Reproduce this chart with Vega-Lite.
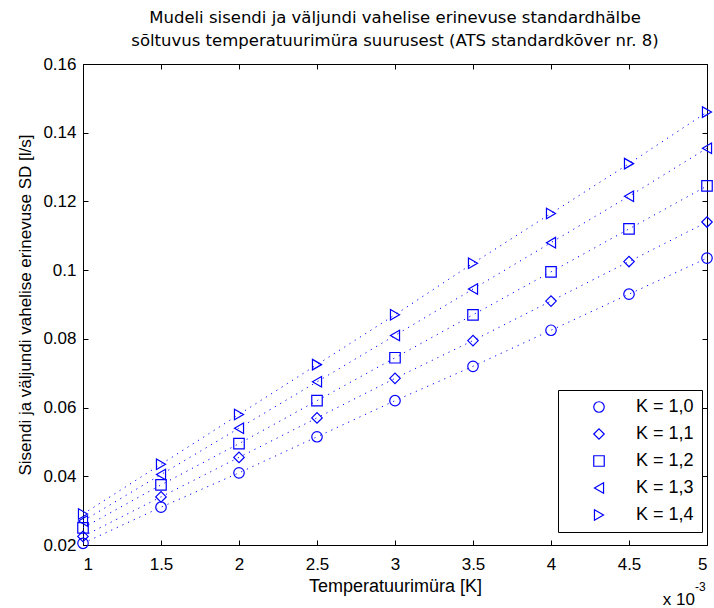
{
  "$schema": "https://vega.github.io/schema/vega-lite/v6.json",
  "width": 624,
  "height": 481,
  "autosize": {"type": "none"},
  "padding": {"left": 83, "top": 64, "right": 7, "bottom": 63},
  "background": "white",
  "config": {
    "font": "Liberation Sans",
    "view": {"stroke": "black", "strokeWidth": 1},
    "axis": {"grid": false, "domainColor": "black", "tickColor": "black", "labelColor": "black", "titleColor": "black", "labelFont": "Liberation Sans", "titleFont": "Liberation Sans", "labelFontSize": 17, "titleFontSize": 17, "titleFontWeight": "normal"}
  },
  "title": {
    "text": ["Mudeli sisendi ja väljundi vahelise erinevuse standardhälbe", "sõltuvus temperatuurimüra suurusest (ATS standardkõver nr. 8)"],
    "fontSize": 16.5, "fontWeight": "normal", "font": "DejaVu Sans", "color": "black", "anchor": "middle", "lineHeight": 23, "offset": 6
  },
  "data": {"values": [
    {"T": 1, "SD": 0.0205, "K": "K = 1,0"}, {"T": 1.5, "SD": 0.031, "K": "K = 1,0"}, {"T": 2, "SD": 0.041, "K": "K = 1,0"}, {"T": 2.5, "SD": 0.0515, "K": "K = 1,0"}, {"T": 3, "SD": 0.062, "K": "K = 1,0"}, {"T": 3.5, "SD": 0.072, "K": "K = 1,0"}, {"T": 4, "SD": 0.0825, "K": "K = 1,0"}, {"T": 4.5, "SD": 0.093, "K": "K = 1,0"}, {"T": 5, "SD": 0.1035, "K": "K = 1,0"},
    {"T": 1, "SD": 0.0225, "K": "K = 1,1"}, {"T": 1.5, "SD": 0.034, "K": "K = 1,1"}, {"T": 2, "SD": 0.0455, "K": "K = 1,1"}, {"T": 2.5, "SD": 0.057, "K": "K = 1,1"}, {"T": 3, "SD": 0.0685, "K": "K = 1,1"}, {"T": 3.5, "SD": 0.0795, "K": "K = 1,1"}, {"T": 4, "SD": 0.091, "K": "K = 1,1"}, {"T": 4.5, "SD": 0.1025, "K": "K = 1,1"}, {"T": 5, "SD": 0.114, "K": "K = 1,1"},
    {"T": 1, "SD": 0.025, "K": "K = 1,2"}, {"T": 1.5, "SD": 0.0375, "K": "K = 1,2"}, {"T": 2, "SD": 0.0495, "K": "K = 1,2"}, {"T": 2.5, "SD": 0.062, "K": "K = 1,2"}, {"T": 3, "SD": 0.0745, "K": "K = 1,2"}, {"T": 3.5, "SD": 0.087, "K": "K = 1,2"}, {"T": 4, "SD": 0.0995, "K": "K = 1,2"}, {"T": 4.5, "SD": 0.112, "K": "K = 1,2"}, {"T": 5, "SD": 0.1245, "K": "K = 1,2"},
    {"T": 1, "SD": 0.027, "K": "K = 1,3"}, {"T": 1.5, "SD": 0.0405, "K": "K = 1,3"}, {"T": 2, "SD": 0.054, "K": "K = 1,3"}, {"T": 2.5, "SD": 0.0675, "K": "K = 1,3"}, {"T": 3, "SD": 0.081, "K": "K = 1,3"}, {"T": 3.5, "SD": 0.0945, "K": "K = 1,3"}, {"T": 4, "SD": 0.108, "K": "K = 1,3"}, {"T": 4.5, "SD": 0.1215, "K": "K = 1,3"}, {"T": 5, "SD": 0.1355, "K": "K = 1,3"},
    {"T": 1, "SD": 0.029, "K": "K = 1,4"}, {"T": 1.5, "SD": 0.0435, "K": "K = 1,4"}, {"T": 2, "SD": 0.058, "K": "K = 1,4"}, {"T": 2.5, "SD": 0.0725, "K": "K = 1,4"}, {"T": 3, "SD": 0.087, "K": "K = 1,4"}, {"T": 3.5, "SD": 0.102, "K": "K = 1,4"}, {"T": 4, "SD": 0.1165, "K": "K = 1,4"}, {"T": 4.5, "SD": 0.131, "K": "K = 1,4"}, {"T": 5, "SD": 0.146, "K": "K = 1,4"}
  ]},
  "layer": [
    {
      "mark": {"type": "line", "color": "#0000ff", "strokeWidth": 1, "strokeDash": [1.2, 5], "clip": true},
      "encoding": {
        "x": {"field": "T", "type": "quantitative", "scale": {"domain": [1, 5], "nice": false, "zero": false},
              "axis": {"orient": "bottom", "values": [1, 1.5, 2, 2.5, 3, 3.5, 4, 4.5, 5], "format": ".1~f", "tickSize": -5, "labelPadding": 16, "title": "Temperatuurimüra [K]", "titleFontSize": 18, "titlePadding": 5, "domain": false}},
        "y": {"field": "SD", "type": "quantitative", "scale": {"domain": [0.02, 0.16], "nice": false, "zero": false},
              "axis": {"orient": "left", "values": [0.02, 0.04, 0.06, 0.08, 0.1, 0.12, 0.14, 0.16], "format": ".2~f", "tickSize": -5, "labelPadding": 12, "title": "Sisendi ja väljundi vahelise erinevuse SD [l/s]", "titlePadding": 8, "domain": false}},
        "detail": {"field": "K", "type": "nominal"}
      }
    },
    {
      "mark": {"type": "point", "filled": false, "color": "#0000ff", "size": 110, "strokeWidth": 1.2, "opacity": 1},
      "encoding": {
        "x": {"field": "T", "type": "quantitative", "axis": null},
        "y": {"field": "SD", "type": "quantitative", "axis": null},
        "shape": {"field": "K", "type": "nominal",
          "scale": {"domain": ["K = 1,0", "K = 1,1", "K = 1,2", "K = 1,3", "K = 1,4"], "range": ["circle", "diamond", "square", "triangle-left", "triangle-right"]},
          "legend": {"title": null, "orient": "none", "legendX": 475, "legendY": 326, "fillColor": "white", "strokeColor": "black", "padding": 8, "labelFontSize": 18, "labelFont": "Liberation Sans", "labelColor": "black", "symbolStrokeColor": "#0000ff", "symbolFillColor": "transparent", "symbolSize": 110, "symbolStrokeWidth": 1.2, "rowPadding": 9, "symbolOffset": 24, "labelOffset": 28, "labelLimit": 200}}
      }
    },
    {
      "mark": {"type": "point", "opacity": 0},
      "encoding": {
        "x": {"field": "T", "type": "quantitative", "axis": {"orient": "top", "values": [1, 1.5, 2, 2.5, 3, 3.5, 4, 4.5, 5], "labels": false, "tickSize": -5, "title": null, "domain": false}},
        "y": {"field": "SD", "type": "quantitative", "axis": {"orient": "right", "values": [0.02, 0.04, 0.06, 0.08, 0.1, 0.12, 0.14, 0.16], "labels": false, "tickSize": -5, "title": null, "domain": false}}
      }
    },
    {
      "data": {"values": [{"T": 5, "SD": 0.0035, "txt": "x 10"}]},
      "mark": {"type": "text", "align": "right", "baseline": "alphabetic", "fontSize": 17, "font": "Liberation Sans", "color": "black", "dx": -12, "dy": 3, "clip": false},
      "encoding": {"x": {"field": "T", "type": "quantitative", "axis": null}, "y": {"field": "SD", "type": "quantitative", "axis": null}, "text": {"field": "txt"}}
    },
    {
      "data": {"values": [{"T": 5, "SD": 0.0035, "txt": "-3"}]},
      "mark": {"type": "text", "align": "left", "baseline": "alphabetic", "fontSize": 12, "font": "Liberation Sans", "color": "black", "dx": -12, "dy": -11, "clip": false},
      "encoding": {"x": {"field": "T", "type": "quantitative", "axis": null}, "y": {"field": "SD", "type": "quantitative", "axis": null}, "text": {"field": "txt"}}
    }
  ],
  "resolve": {"axis": {"x": "independent", "y": "independent"}}
}
